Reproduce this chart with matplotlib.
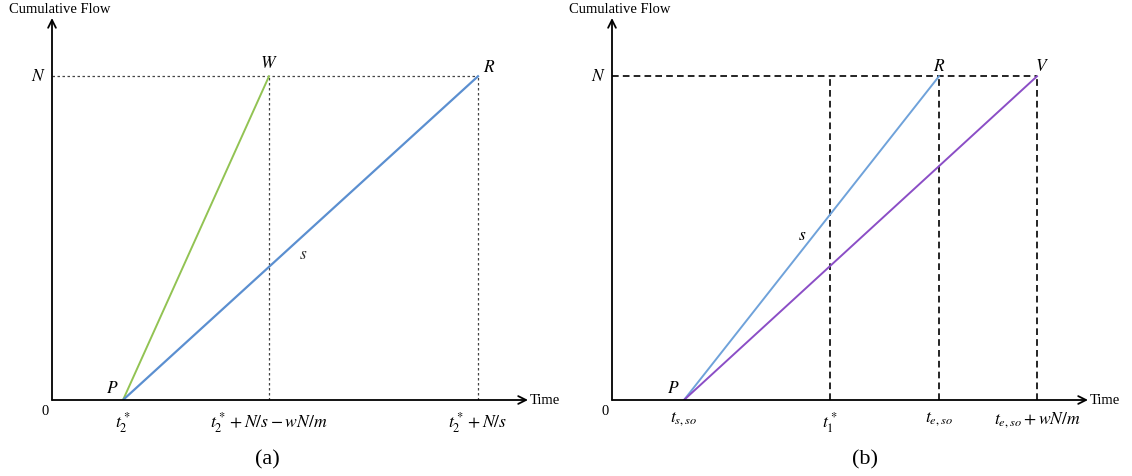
import matplotlib.pyplot as plt

plt.rcParams['mathtext.fontset'] = 'stix'

# Panel (a): times of P, W, R (arbitrary units) and the N level
a_t = [0.71, 2.17, 4.26]
a_ticks = [r"$t_2^*$", r"$t_2^*+N/s-wN/m$", r"$t_2^*+N/s$"]

# Panel (b): times of P, t1*, R, V
b_t = [0.72, 2.18, 3.27, 4.25]
b_ticks = [r"$t_{s,so}$", r"$t_1^*$", r"$t_{e,so}$", r"$t_{e,so}+wN/m$"]

N = 1.0
XMAX, YMAX = 4.76, 1.18

green = "#92c353"
blue_a = "#5b8fd0"
blue_b = "#6fa2da"
purple = "#8b4ec6"

W_PX, H_PX = 1132, 476
fig = plt.figure(figsize=(W_PX / 100, H_PX / 100), dpi=100)


def make_axes(x0):
    ax = fig.add_axes([x0 / W_PX, (H_PX - 400) / H_PX, 476 / W_PX, 382 / H_PX])
    ax.set_xlim(0, XMAX)
    ax.set_ylim(0, YMAX)
    ax.axis("off")
    # axes with arrows
    arrow = dict(arrowstyle="->", lw=1.3, color="black", shrinkA=0, shrinkB=0,
                 mutation_scale=14)
    ax.annotate("", xy=(XMAX, 0), xytext=(0, 0), arrowprops=arrow,
                annotation_clip=False)
    ax.annotate("", xy=(0, YMAX), xytext=(0, 0), arrowprops=arrow,
                annotation_clip=False)
    ax.text(0.08, YMAX + 0.026, "Cumulative Flow", family="Liberation Serif",
            fontsize=10.5, ha="center", va="center")
    ax.text(XMAX + 0.02, 0.0, "Time", family="Liberation Serif", fontsize=10.5,
            ha="left", va="center")
    ax.text(-0.03, -0.015, "0", family="Liberation Serif", fontsize=10.5,
            ha="right", va="top")
    ax.text(-0.06, N, "$N$", fontsize=12.5, ha="right", va="center")
    return ax


# ---- (a)
ax = make_axes(52)
dot = dict(color="#444444", lw=0.9, dashes=(2, 2))
ax.plot([0, a_t[2]], [N, N], **dot)
ax.plot([a_t[1], a_t[1]], [0, N], **dot)
ax.plot([a_t[2], a_t[2]], [0, N], **dot)
ax.plot([a_t[0], a_t[1]], [0, N], color=green, lw=1.4)
ax.plot([a_t[0], a_t[2]], [0, N], color=blue_a, lw=1.6)
ax.text(a_t[0] - 0.04, 0.01, "$P$", fontsize=12.5, ha="right", va="bottom")
ax.text(a_t[1], N + 0.012, "$W$", fontsize=12.5, ha="center", va="bottom")
ax.text(a_t[2] + 0.05, N + 0.002, "$R$", fontsize=12.5, ha="left", va="bottom")
ax.text(2.51, 0.45, "$s$", fontsize=12.5, color="#333333", ha="center",
        va="center")
for t, lab in zip(a_t, a_ticks):
    ax.text(t, -0.03, lab, fontsize=12.7, ha="center", va="top")
ax.text(2.15, -0.155, "(a)", family="Liberation Serif", fontsize=16,
        ha="center", va="top")

# ---- (b)
ax = make_axes(612)
dash = dict(color="black", lw=1.2, dashes=(4, 2.5))
ax.plot([0, b_t[3]], [N, N], **dash)
for t in b_t[1:]:
    ax.plot([t, t], [0, N], **dash)
ax.plot([b_t[0], b_t[2]], [0, N], color=blue_b, lw=1.4)
ax.plot([b_t[0], b_t[3]], [0, N], color=purple, lw=1.4)
ax.text(b_t[0] - 0.04, 0.01, "$P$", fontsize=12.5, ha="right", va="bottom")
ax.text(b_t[2], N + 0.005, "$R$", fontsize=12.5, ha="center", va="bottom")
ax.text(b_t[3] + 0.05, N + 0.005, "$V$", fontsize=12.5, ha="center", va="bottom")
ax.text(1.9, 0.51, "$s$", fontsize=12.5, ha="center", va="center")
for t, lab in zip(b_t, b_ticks):
    ax.text(t, -0.03, lab, fontsize=12.7, ha="center", va="top")
ax.text(2.53, -0.155, "(b)", family="Liberation Serif", fontsize=16,
        ha="center", va="top")

fig.savefig("out.png", dpi=100)
